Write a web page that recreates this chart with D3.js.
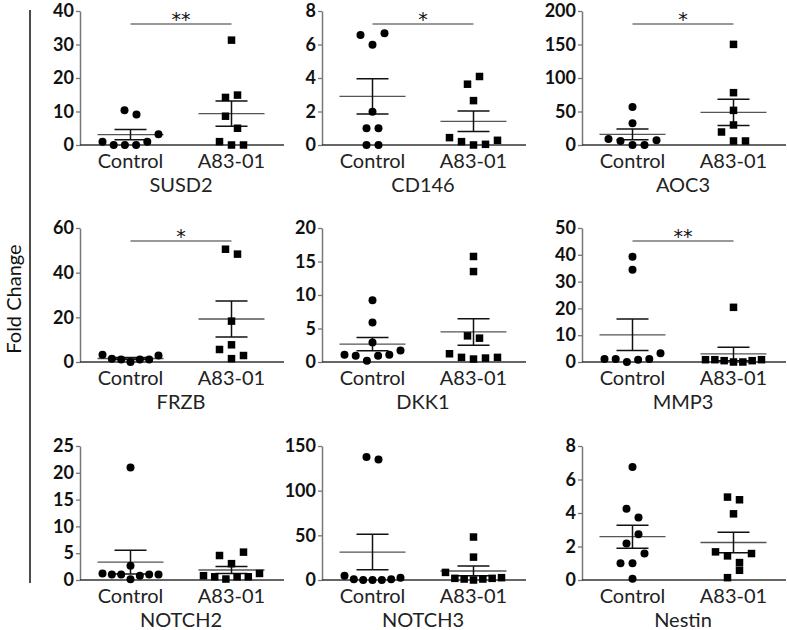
<!DOCTYPE html>
<html>
<head>
<meta charset="utf-8">
<script src="https://cdn.jsdelivr.net/npm/d3@7"></script>
<style>
  body { margin: 0; background: #fff; }
  svg { display: block; font-family: Lato, "Open Sans", sans-serif; }
</style>
</head>
<body>
<script>
// values, listed left to right inside each cluster
const groups = ["Control", "A83-01"];
const genes = ["SUSD2", "CD146", "AOC3", "FRZB", "DKK1", "MMP3", "NOTCH2", "NOTCH3", "Nestin"];

const susd2Control = [10.4, 9.1, 1.0, 0, 0, 0, 1.0, 3.2];
const susd2A83 = [31.3, 14.2, 14.9, 8.6, 5.0, 1.0, 0, 0];
const cd146Control = [6.57, 5.99, 6.67, 1.98, 1.0, 1.0, 0, 0];
const cd146A83 = [3.63, 4.09, 2.65, 0.44, 0.2, 0, 0.04, 0.28];
const aoc3Control = [56.7, 32.3, 9.0, 6.0, 0, 0, 7.0];
const aoc3A83 = [150.2, 78.1, 51.7, 29.9, 19.4, 6.0, 6.0];
const frzbControl = [3.3, 1.4, 1.1, 0, 1.1, 1.1, 2.9];
const frzbA83 = [50.5, 48.3, 18.3, 7.7, 5.6, 1.5, 2.9];
const dkk1Control = [9.2, 5.9, 2.9, 1.09, 0.94, 0.2, 0.94, 1.09, 1.73];
const dkk1A83 = [15.75, 13.5, 3.9, 3.56, 1.23, 0.69, 0.44, 0.59, 0.69];
const mmp3Control = [39.3, 34.4, 1.1, 1.1, 0, 0.86, 1.1, 3.3];
const mmp3A83 = [20.4, 0.86, 0.86, 0.5, 0, 0, 0.5, 0.86];
const notch2Control = [21.0, 2.68, 1.22, 1.04, 1.04, 0.12, 0.8, 1.04, 1.04];
const notch2A83 = [4.57, 3.05, 5.2, 0.8, 0.6, 0.18, 0.6, 0.6, 1.22];
const notch3Control = [137.8, 134.8, 4.8, 0.74, 0, 0, 0, 0.74, 2.6];
const notch3A83 = [48.1, 25.6, 8.5, 1.85, 1.1, 0, 1.1, 1.85, 2.6];
const nestinControl = [6.75, 4.25, 3.73, 2.18, 2.73, 1.0, 1.0, 1.58, 0.08];
const nestinA83 = [4.95, 4.79, 3.95, 1.68, 1.44, 1.04, 1.58, 0.14, 0.58];

const controlValues = [susd2Control, cd146Control, aoc3Control, frzbControl, dkk1Control, mmp3Control, notch2Control, notch3Control, nestinControl];
const a83Values = [susd2A83, cd146A83, aoc3A83, frzbA83, dkk1A83, mmp3A83, notch2A83, notch3A83, nestinA83];

const yTicks = [
  [0, 10, 20, 30, 40],
  [0, 2, 4, 6, 8],
  [0, 50, 100, 150, 200],
  [0, 20, 40, 60],
  [0, 5, 10, 15, 20],
  [0, 10, 20, 30, 40, 50],
  [0, 5, 10, 15, 20, 25],
  [0, 50, 100, 150],
  [0, 2, 4, 6, 8]
];
const stars = ["**", "*", "*", "*", "", "**", "", "", ""];

const width = 787, height = 630;
const colX = [80, 322, 582];
const rowZero = [145, 362, 580];
const plotH = 134, plotW = 204;

const svg = d3.select("body").append("svg")
  .attr("width", width)
  .attr("height", height);

// shared y label and bracket line
svg.append("line")
  .attr("x1", 30).attr("x2", 30)
  .attr("y1", 10).attr("y2", 583)
  .attr("stroke", "#111")
  .attr("stroke-width", 1.5);

svg.append("text")
  .attr("transform", "translate(21,299) rotate(-90)")
  .attr("text-anchor", "middle")
  .attr("font-size", 20)
  .attr("fill", "#111")
  .text("Fold Change");

// prism-like spread: cluster points that sit close in pixel height, centre each cluster
function spread(values, y) {
  const px = values.map(v => y(v));
  const order = d3.range(values.length).sort((a, b) => values[a] - values[b]);
  const clusters = [];
  let cur = null;
  order.forEach(i => {
    if (cur && px[cur.anchor] - px[i] < 12.3) cur.members.push(i);
    else { cur = {anchor: i, members: [i]}; clusters.push(cur); }
  });
  const off = new Array(values.length);
  clusters.forEach(c => {
    c.members.sort((a, b) => a - b);
    const n = c.members.length;
    const step = n > 1 ? Math.min(12, 56 / (n - 1)) : 0;
    c.members.forEach((idx, k) => { off[idx] = (k - (n - 1) / 2) * step; });
  });
  return off;
}

genes.forEach((gene, i) => {
  const ticks = yTicks[i];
  const g = svg.append("g")
    .attr("transform", `translate(${colX[i % 3]},${rowZero[Math.floor(i / 3)] - plotH})`);

  const y = d3.scaleLinear().domain([0, ticks[ticks.length - 1]]).range([plotH, 0]);
  const x = d3.scalePoint().domain(groups).range([0, 202]).padding(0.5);

  const yAxis = g.append("g")
    .call(d3.axisLeft(y).tickValues(ticks).tickSize(4).tickSizeOuter(0).tickPadding(2));
  yAxis.select(".domain").attr("stroke", "#777").attr("stroke-width", 1.5);
  yAxis.selectAll(".tick line").attr("stroke", "#777").attr("stroke-width", 1.3);
  yAxis.selectAll(".tick text")
    .attr("font-family", "Lato, sans-serif")
    .attr("font-size", 18)
    .attr("font-weight", "bold")
    .attr("fill", "#111");

  g.append("line")
    .attr("x1", 0).attr("x2", plotW)
    .attr("y1", plotH).attr("y2", plotH)
    .attr("stroke", "#333")
    .attr("stroke-width", 1.5);

  g.selectAll(".cat")
    .data(groups)
    .enter()
      .append("text")
      .attr("x", d => x(d))
      .attr("y", plotH + 23)
      .attr("text-anchor", "middle")
      .attr("font-size", 20)
      .attr("fill", "#222")
      .text(d => d);

  g.append("text")
    .attr("x", (x(groups[0]) + x(groups[1])) / 2)
    .attr("y", plotH + 47)
    .attr("text-anchor", "middle")
    .attr("font-size", 20)
    .attr("fill", "#222")
    .text(gene);

  [controlValues[i], a83Values[i]].forEach((vals, gi) => {
    const cx = x(groups[gi]);
    const off = spread(vals, y);
    const m = d3.mean(vals);
    const sem = d3.deviation(vals) / Math.sqrt(vals.length);

    g.append("line")
      .attr("x1", cx - 33).attr("x2", cx + 33)
      .attr("y1", y(m)).attr("y2", y(m))
      .attr("stroke", "#555").attr("stroke-width", 1.3);
    g.append("line")
      .attr("x1", cx).attr("x2", cx)
      .attr("y1", y(m - sem)).attr("y2", y(m + sem))
      .attr("stroke", "#111").attr("stroke-width", 1.5);
    [m - sem, m + sem].forEach(v => {
      g.append("line")
        .attr("x1", cx - 16).attr("x2", cx + 16)
        .attr("y1", y(v)).attr("y2", y(v))
        .attr("stroke", "#111").attr("stroke-width", 1.5);
    });

    if (gi === 0) {
      g.selectAll(".dot" + gi)
        .data(vals)
        .enter()
          .append("circle")
          .attr("cx", (d, k) => cx + off[k])
          .attr("cy", d => y(d))
          .attr("r", 4)
          .attr("fill", "#000");
    } else {
      g.selectAll(".sq" + gi)
        .data(vals)
        .enter()
          .append("rect")
          .attr("x", (d, k) => cx + off[k] - 3.75)
          .attr("y", d => y(d) - 3.75)
          .attr("width", 7.5)
          .attr("height", 7.5)
          .attr("fill", "#000");
    }
  });

  if (stars[i]) {
    g.append("line")
      .attr("x1", x(groups[0])).attr("x2", x(groups[1]))
      .attr("y1", 13).attr("y2", 13)
      .attr("stroke", "#777").attr("stroke-width", 1.3);
    g.append("text")
      .attr("x", (x(groups[0]) + x(groups[1])) / 2)
      .attr("y", 15)
      .attr("text-anchor", "middle")
      .attr("font-family", "'DejaVu Sans', sans-serif")
      .attr("font-size", 19)
      .attr("fill", "#111")
      .text(stars[i]);
  }
});
</script>
</body>
</html>
